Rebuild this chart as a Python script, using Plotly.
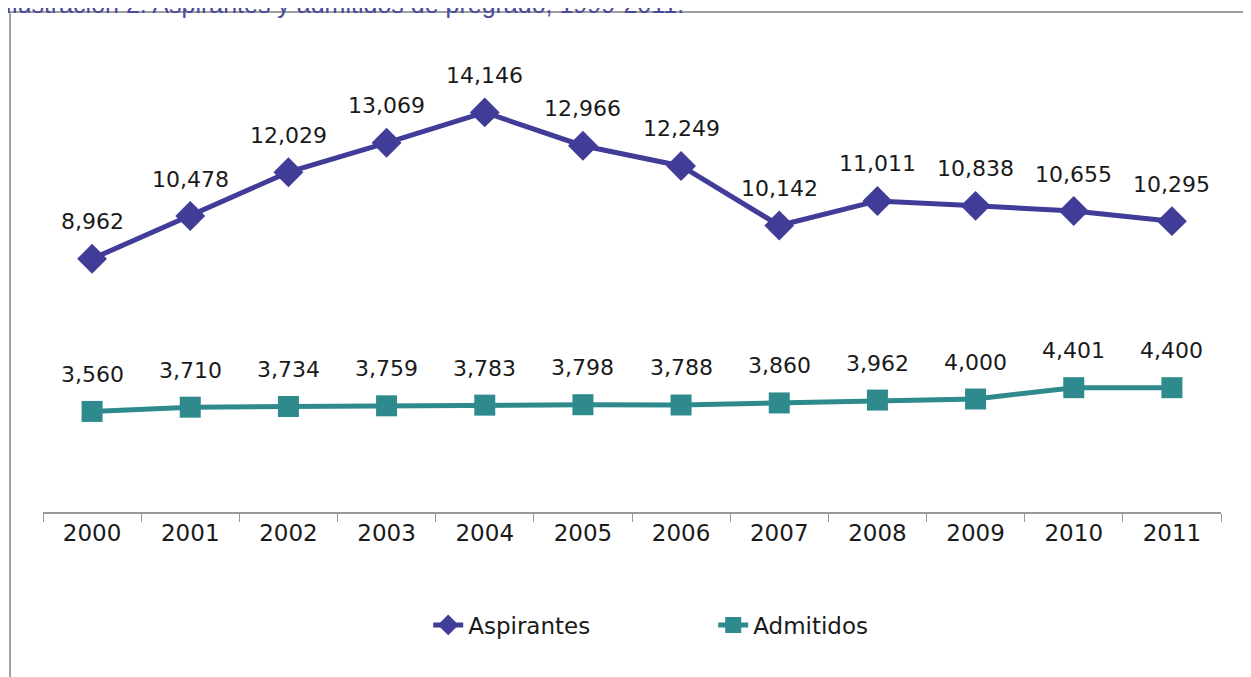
import plotly.graph_objects as go

# data
years = ["2000", "2001", "2002", "2003", "2004", "2005",
         "2006", "2007", "2008", "2009", "2010", "2011"]
aspirantes = [8962, 10478, 12029, 13069, 14146, 12966,
              12249, 10142, 11011, 10838, 10655, 10295]
admitidos = [3560, 3710, 3734, 3759, 3783, 3798,
             3788, 3860, 3962, 4000, 4401, 4400]

blue = "#403C98"
teal = "#2E8A8C"
font = "DejaVu Sans"

fig = go.Figure()
fig.add_trace(go.Scatter(x=years, y=aspirantes, name="Aspirantes",
                         mode="lines+markers",
                         line=dict(color=blue, width=5),
                         marker=dict(symbol="diamond", size=23, color=blue)))
fig.add_trace(go.Scatter(x=years, y=admitidos, name="Admitidos",
                         mode="lines+markers",
                         line=dict(color=teal, width=5),
                         marker=dict(symbol="square", size=21, color=teal)))

# data labels above each point (x given as category index)
annots = []
for series in (aspirantes, admitidos):
    for i, v in enumerate(series):
        annots.append(dict(x=i, y=v, text=f"{v:,}", showarrow=False,
                           yshift=37, font=dict(size=22, color="#1a1a1a", family=font)))

# figure title, cut off at the top of the image
# (page body has an 8px margin, so the figure sits 8px right/down)
annots.append(dict(xref="paper", yref="paper", x=-0.034, y=1 + 52 / 452,
                   xanchor="left", yanchor="middle", yshift=4, showarrow=False,
                   text="Ilustración 2. Aspirantes y admitidos de pregrado, 1999-2011.",
                   font=dict(size=25, color="#4A4A9A", family="Liberation Sans")))

fig.update_layout(
    width=1243, height=669,
    margin=dict(l=35, r=30, t=52, b=165),
    paper_bgcolor="white", plot_bgcolor="white",
    annotations=annots,
    showlegend=True,
    legend=dict(orientation="h", x=0.327, xanchor="left", y=-0.25, yanchor="middle",
                font=dict(size=23, color="#1a1a1a", family=font),
                entrywidth=240),
    shapes=[dict(type="rect", xref="paper", yref="paper",
                 x0=-0.028, x1=1.0229, y0=-0.6, y1=1.106,
                 line=dict(color="#A0A0A0", width=2))],
)
fig.update_xaxes(type="category", range=[-0.5, len(years) - 0.5],
                 showline=True, linecolor="#999999", linewidth=1.5,
                 ticks="outside", tickson="boundaries", ticklen=8, tickcolor="#999999",
                 tickfont=dict(size=23, color="#1a1a1a", family=font),
                 showgrid=False, zeroline=False)
fig.update_yaxes(range=[0, 16000], visible=False, showgrid=False)

fig.write_html("out.html")
